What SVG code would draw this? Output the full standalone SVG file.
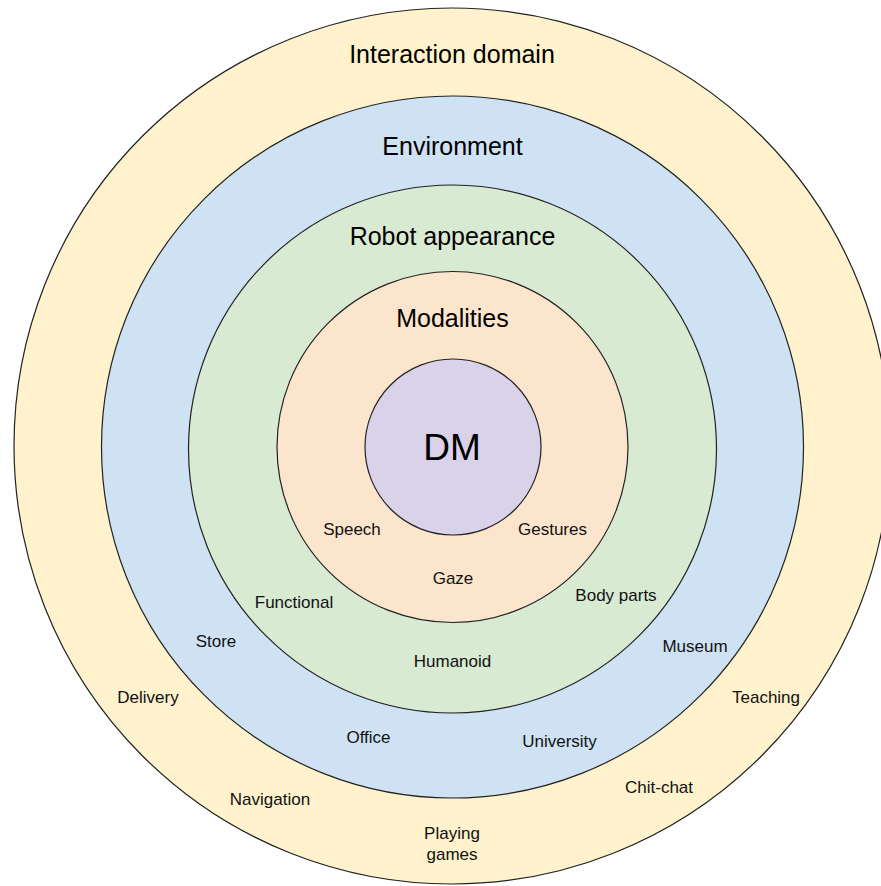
<svg xmlns="http://www.w3.org/2000/svg" width="881" height="886" viewBox="0 0 881 886">
<style>
.ring{stroke:#222;stroke-width:1.2}
.big{font-family:"Liberation Sans",Arial,sans-serif;font-size:25px;fill:#000;text-anchor:middle}
.lbl{font-family:"Liberation Sans",Arial,sans-serif;font-size:17px;fill:#111;text-anchor:middle}
</style>
<rect width="881" height="886" fill="#ffffff"/>
<g id="interaction-domain">
<circle class="ring" cx="452" cy="446" r="438" fill="#fff2cc"/>
<text class="big" x="452" y="63">Interaction domain</text>
<text class="lbl" x="148" y="703">Delivery</text>
<text class="lbl" x="270" y="805">Navigation</text>
<text class="lbl" x="452" y="839">Playing</text>
<text class="lbl" x="452" y="860">games</text>
<text class="lbl" x="659" y="793">Chit-chat</text>
<text class="lbl" x="766" y="703">Teaching</text>
</g>
<g id="environment">
<circle class="ring" cx="452.5" cy="447" r="351" fill="#cfe2f3"/>
<text class="big" x="452.5" y="155">Environment</text>
<text class="lbl" x="216" y="647">Store</text>
<text class="lbl" x="368.5" y="743">Office</text>
<text class="lbl" x="559.5" y="747">University</text>
<text class="lbl" x="695" y="652">Museum</text>
</g>
<g id="robot-appearance">
<circle class="ring" cx="452.5" cy="449" r="264" fill="#d9ead3"/>
<text class="big" x="452.5" y="245">Robot appearance</text>
<text class="lbl" x="294" y="608">Functional</text>
<text class="lbl" x="452.5" y="667">Humanoid</text>
<text class="lbl" x="616" y="601">Body parts</text>
</g>
<g id="modalities">
<circle class="ring" cx="452.5" cy="447" r="175.5" fill="#fce5cd"/>
<text class="big" x="452.5" y="327">Modalities</text>
<text class="lbl" x="352" y="535">Speech</text>
<text class="lbl" x="552.5" y="535">Gestures</text>
<text class="lbl" x="453" y="584">Gaze</text>
</g>
<g id="dm">
<circle class="ring" cx="453" cy="447" r="88" fill="#d9d2e9"/>
<text class="big" x="452" y="460" style="font-size:37px">DM</text>
</g>
<g id="connectors"></g>
</svg>
